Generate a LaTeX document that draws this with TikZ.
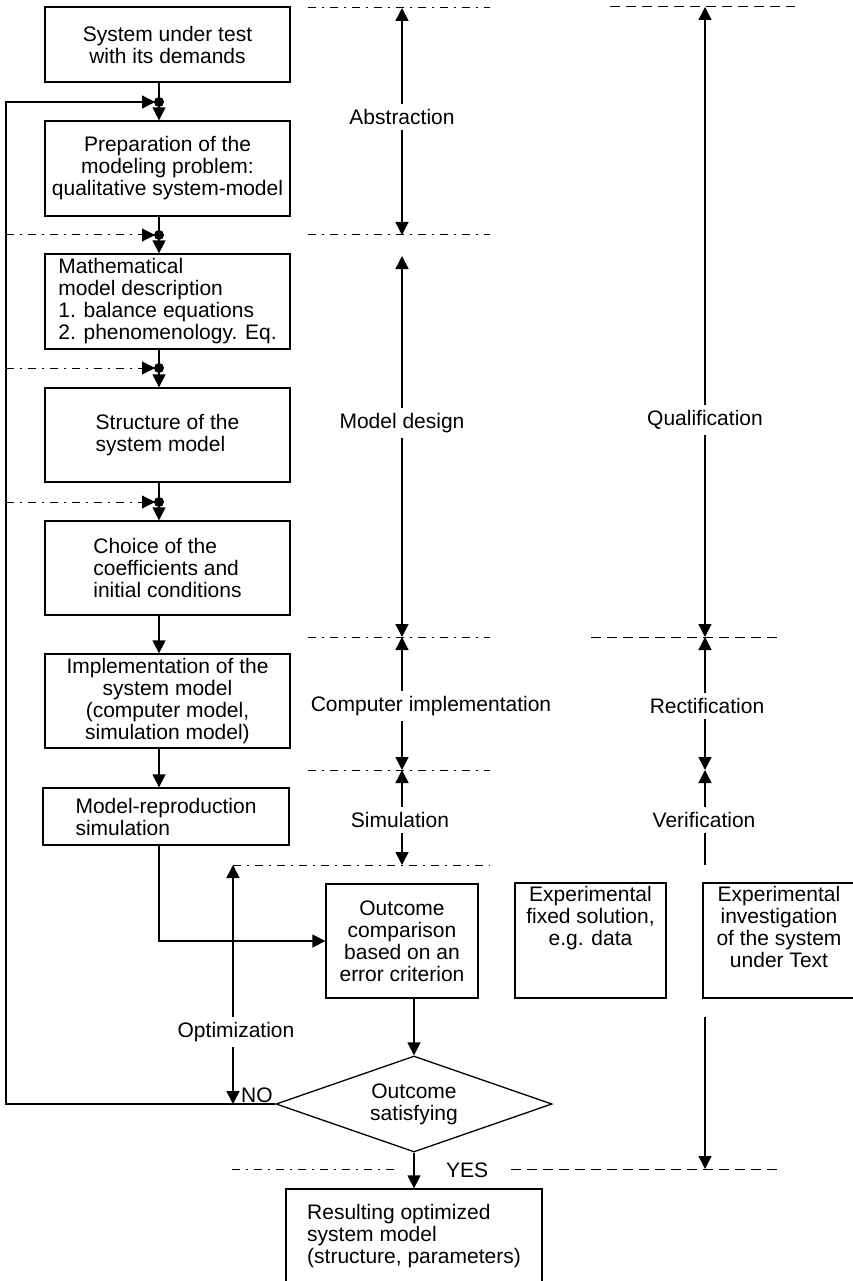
\documentclass[tikz,border=0pt]{standalone}
\usepackage{fontspec}
\setmainfont{Liberation Sans}
\usetikzlibrary{shapes.geometric, arrows.meta, calc}
\tikzstyle{box} = [draw, line width=1.3pt, minimum width=245pt, minimum height=94pt,
                   inner sep=4pt, align=center]
\tikzstyle{boxl} = [box, align=left]
\tikzstyle{decision} = [draw, line width=1.3pt, diamond, aspect=2.9, minimum width=276pt,
                        minimum height=96pt, inner sep=0pt, align=center]
\tikzstyle{lbl} = [inner sep=5pt]
\tikzstyle{arr} = [line width=1.5pt, -{Triangle[length=13pt, width=13pt]}]
\tikzstyle{dashdot} = [line width=1pt, dash pattern=on 8pt off 6pt on 2pt off 6pt]
\tikzstyle{dashline} = [line width=1pt, dash pattern=on 10pt off 6pt]

\begin{document}
\begin{tikzpicture}[x=1pt, y=-1pt, font=\fontsize{21}{22}\selectfont]
    \useasboundingbox (0,0) rectangle (852,1281);
    \node[box, minimum height=75pt] (sys) at (167.5,44.5) {System under test\\with its demands};
    \node[box, minimum height=95pt] (prep) at (167.5,168.5) {Preparation of the\\modeling problem:\\qualitative system-model};
    \node[boxl, minimum height=95pt] (math) at (167.5,301.5) {Mathematical\\model description\\1. balance equations\\2. phenomenology. Eq.};
    \node[boxl] (struct) at (167.5,435) {Structure of the\\system model};
    \node[boxl] (choice) at (167.5,568) {Choice of the\\coefficients and\\initial conditions};
    \node[box] (impl) at (167.5,701) {Implementation of the\\system model\\(computer model,\\simulation model)};
    \node[boxl, minimum width=246pt, minimum height=57pt] (repro) at (166,816.5) {Model-reproduction\\simulation};
    \node[box, minimum width=152pt, minimum height=114pt] (comp) at (402,941) {Outcome\\comparison\\based on an\\error criterion};
    \node[box, minimum width=151pt, minimum height=115pt] (fixed) at (590.5,940.5) {};
    \node[box, minimum width=152pt, minimum height=115pt] (invest) at (779,940.5) {};
    \node[anchor=north, align=center] (fixedtxt) at (fixed.north) {Experimental\\fixed solution,\\e.g. data};
    \node[anchor=north, align=center] (investtxt) at (invest.north) {Experimental\\investigation\\of the system\\under Text};
    \node[decision] (dec) at (414,1104) {Outcome\\satisfying};
    \node[boxl, minimum width=256pt, minimum height=95pt] (res) at (414,1236.5) {Resulting optimized\\system model\\(structure, parameters)};

    \coordinate (fb) at (6,102);
    \coordinate (j0) at (159,102);
    \coordinate (j1) at (159,235);
    \coordinate (j2) at (159,368);
    \coordinate (j3) at (159,502);
    \foreach \a/\b in {sys/prep, prep/math, math/struct, struct/choice, choice/impl, impl/repro}
        \draw[arr] (\a.south -| j0) -- (\b.north -| j0);
    \draw[arr] (repro.south -| j0) |- (comp.west);
    \draw[arr] (comp.south -| dec.north) -- (dec.north);
    \draw[arr] (dec.south) -- (res.north);
    \draw[arr, shorten >=4pt] (dec.west) -| (fb) -- (j0);
    \foreach \j in {j1, j2, j3}
        \draw[arr, dashdot, shorten >=4pt] (fb |- \j) -- (\j);
    \foreach \j in {j0, j1, j2, j3}
        \fill (\j) circle (5pt);

    \coordinate (a0) at (402,8);
    \coordinate (a1) at (402,235);
    \coordinate (a1b) at (402,256);
    \coordinate (a2) at (402,637);
    \coordinate (a3) at (402,770);
    \coordinate (a4) at (402,865);
    \coordinate (b0) at (705,7);
    \coordinate (b2) at (705,637);
    \coordinate (b3) at (705,770);
    \coordinate (b4) at (705,865);
    \coordinate (b5) at (705,1017);
    \coordinate (b6) at (705,1169);
    \coordinate (o0) at (233,865);
    \coordinate (o1) at (233,1104);

    \node[lbl] (abs) at (402,117) {Abstraction};
    \node[lbl] (mdes) at (402,423) {Model design};
    \node[lbl] (cimp) at (431,706) {Computer implementation};
    \node[lbl] (sim) at (400,820) {Simulation};
    \node[lbl] (qual) at (705,420) {Qualification};
    \node[lbl] (rect) at (707,706) {Rectification};
    \node[lbl] (ver) at (704,820) {Verification};
    \node[lbl] (opt) at (236,1032) {Optimization};
    \node[anchor=base west, inner sep=0pt] (no) at (241,1102) {NO};
    \node[anchor=base west, inner sep=0pt] (yes) at (446,1177) {YES};

    \draw[arr] (abs) -- (a0);
    \draw[arr] (abs) -- (a1);
    \draw[arr] (mdes) -- (a1b);
    \draw[arr] (mdes) -- (a2);
    \draw[arr] (cimp.north -| a2) -- (a2);
    \draw[arr] (cimp.south -| a3) -- (a3);
    \draw[arr] (sim.north -| a3) -- (a3);
    \draw[arr] (sim.south -| a4) -- (a4);
    \draw[arr] (qual) -- (b0);
    \draw[arr] (qual) -- (b2);
    \draw[arr] (rect.north -| b2) -- (b2);
    \draw[arr] (rect.south -| b3) -- (b3);
    \draw[arr] (ver.north -| b3) -- (b3);
    \draw[line width=1.5pt] (ver.south -| b4) -- (b4);
    \draw[arr] (b5) -- (b6);
    \draw[arr] (opt.north -| o0) -- (o0);
    \draw[arr] (opt.south -| o1) -- (o1);

    \foreach \y in {8, 235, 637, 770}
        \draw[dashdot] (308,\y) -- (490,\y);
    \draw[dashdot] (o0) -- (490,865);
    \draw[dashdot] (232,1169) -- (398,1169);
    \draw[dashline] (610,7) -- (795,7);
    \draw[dashline] (591,637) -- (778,637);
    \draw[dashline] (511,1169) -- (778,1169);
\end{tikzpicture}
\end{document}
